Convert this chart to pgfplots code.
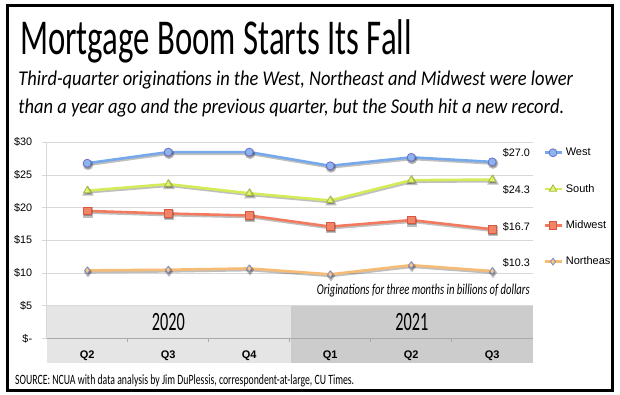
\documentclass[border=0pt]{standalone}
\usepackage{fontspec}
\setmainfont{Liberation Sans}
\newfontfamily\carl{Carlito}
\usepackage{graphicx}
\usepackage{pgfplots}
\pgfplotsset{compat=1.18}
\definecolor{westline}{RGB}{118,168,236}
\definecolor{westfill}{RGB}{140,180,238}
\definecolor{westedge}{RGB}{110,110,200}
\definecolor{southline}{RGB}{212,236,88}
\definecolor{southfill}{RGB}{228,242,120}
\definecolor{southedge}{RGB}{160,190,60}
\definecolor{midline}{RGB}{242,122,94}
\definecolor{midfill}{RGB}{242,132,104}
\definecolor{midedge}{RGB}{214,88,66}
\definecolor{neline}{RGB}{246,188,118}
\definecolor{nefill}{RGB}{246,202,142}
\definecolor{needge}{RGB}{128,140,190}
\definecolor{band20}{RGB}{229,229,229}
\definecolor{band21}{RGB}{204,204,204}
\definecolor{gridc}{RGB}{216,216,216}
\definecolor{axisc}{RGB}{170,170,170}

\pgfplotstableread{
x west south midwest northeast
0 26.8 22.6 19.5 10.4
1 28.5 23.6 19.1 10.5
2 28.5 22.2 18.8 10.7
3 26.4 21.1 17.1 9.8
4 27.7 24.2 18.1 11.2
5 27.0 24.3 16.7 10.3
}\datatable

\newcommand\fitw[2]{\resizebox{#1}{\height}{#2}}

\begin{document}
\begin{tikzpicture}
\path[use as bounding box] (0bp,0bp) rectangle (620bp,395bp);
\fill[white] (0bp,0bp) rectangle (620bp,395bp);
% category bands
\fill[band20] (46.7bp,32.3bp) rectangle (291bp,89.3bp);
\fill[band21] (291bp,32.3bp) rectangle (532.7bp,89.3bp);
\node[inner sep=0pt] at (168.4bp,73.3bp) {\fitw{33bp}{\carl\fontsize{26.4bp}{30bp}\selectfont 2020}};
\node[inner sep=0pt] at (411.8bp,73.3bp) {\fitw{33bp}{\carl\fontsize{26.4bp}{30bp}\selectfont 2021}};
% title and subtitle
\node[inner sep=0pt, anchor=base west] at (20bp,340bp) {\fitw{391.7bp}{\carl\fontsize{50.2bp}{56bp}\selectfont Mortgage Boom Starts Its Fall}};
\node[inner sep=0pt, anchor=base west] at (18.3bp,309bp) {\fitw{554.4bp}{\carl\itshape\fontsize{21bp}{25bp}\selectfont Third-quarter originations in the West, Northeast and Midwest were lower}};
\node[inner sep=0pt, anchor=base west] at (18.3bp,281.7bp) {\fitw{545.7bp}{\carl\itshape\fontsize{21bp}{25bp}\selectfont than a year ago and the previous quarter, but the South hit a new record.}};
% source
\node[inner sep=0pt, anchor=base west] at (15bp,11bp) {\fitw{339bp}{\carl\fontsize{14.2bp}{16bp}\selectfont SOURCE: NCUA with data analysis by Jim DuPlessis, correspondent-at-large, CU Times.}};
% note
\node[inner sep=0pt, anchor=base east] at (530bp,100bp) {\fitw{213bp}{\carl\itshape\fontsize{15bp}{17bp}\selectfont Originations for three months in billions of dollars}};
% value labels
\begin{scope}[every node/.style={inner sep=0pt, anchor=east, font=\fontsize{10.8bp}{12bp}\selectfont}]
\node at (530bp,241.7bp) {\$27.0};
\node at (530bp,205bp) {\$24.3};
\node at (530bp,168bp) {\$16.7};
\node at (530bp,132bp) {\$10.3};
\end{scope}

\begin{axis}[
  at={(46.7bp,56.6bp)}, anchor=south west,
  scale only axis, width=486bp, height=196.1bp,
  xmin=-0.5, xmax=5.5, ymin=0, ymax=30,
  clip=false,
  axis lines*=left,
  x axis line style={-, draw=axisc, line width=0.9bp},
  y axis line style={-, draw=gridc, line width=0.8bp},
  ytick={0,5,...,30},
  yticklabels={\$-,\$5,\$10,\$15,\$20,\$25,\$30},
  ymajorgrids, grid style={gridc, line width=0.8bp},
  tick align=outside,
  major tick length=5bp,
  y tick style={draw=gridc, line width=0.8bp},
  yticklabel style={font=\fontsize{10.8bp}{12bp}\selectfont, inner sep=0pt, xshift=-9.4bp},
  xtick={0,...,5},
  xticklabels={Q2,Q3,Q4,Q1,Q2,Q3},
  major x tick style={draw=none},
  minor xtick={0.5,1.5,2.5,3.5,4.5},
  minor tick length=4bp,
  minor x tick style={draw=axisc, line width=0.8bp},
  xticklabel style={font=\bfseries\fontsize{11bp}{13bp}\selectfont, anchor=center, yshift=-12.8bp},
  every axis plot/.append style={line width=2.6bp},
  legend style={draw=none, fill=none, anchor=west, at={(1.0212,0.669)},
    inner xsep=0pt, inner ysep=0pt, row sep=26.3bp, column sep=3bp,
    nodes={inner sep=0pt, text height=8bp, text depth=2bp},
    font=\fontsize{11bp}{13bp}\selectfont},
  legend cell align=left,
]
% shadows
\pgfplotsset{shadow/.style={forget plot, black, opacity=0.25, xshift=0.8bp, yshift=-1.6bp, mark options={fill=black, draw=black}}}
\addplot[shadow, mark=*, mark size=4bp] table[x=x,y=west] {\datatable};
\addplot[shadow, mark=triangle*, mark size=4.2bp] table[x=x,y=south] {\datatable};
\addplot[shadow, mark=square*, mark size=3.8bp] table[x=x,y=midwest] {\datatable};
\addplot[shadow, mark=diamond*, mark size=3.4bp] table[x=x,y=northeast] {\datatable};
% series
\addplot[westline, mark=*, mark size=4bp, mark options={fill=westfill, draw=westedge, line width=0.8bp}] table[x=x,y=west] {\datatable};
\addlegendentry{West}
\addplot[southline, mark=triangle*, mark size=4.2bp, mark options={fill=southfill, draw=southedge, line width=0.8bp}] table[x=x,y=south] {\datatable};
\addlegendentry{South}
\addplot[midline, mark=square*, mark size=3.8bp, mark options={fill=midfill, draw=midedge, line width=0.8bp}] table[x=x,y=midwest] {\datatable};
\addlegendentry{Midwest}
\addplot[neline, mark=diamond*, mark size=3.4bp, mark options={fill=nefill, draw=needge, line width=0.8bp}] table[x=x,y=northeast] {\datatable};
\addlegendentry{Northeast}
\end{axis}
% border
\draw[line width=3bp] (7.5bp,4.8bp) rectangle (612.8bp,389.7bp);
\end{tikzpicture}
\end{document}
